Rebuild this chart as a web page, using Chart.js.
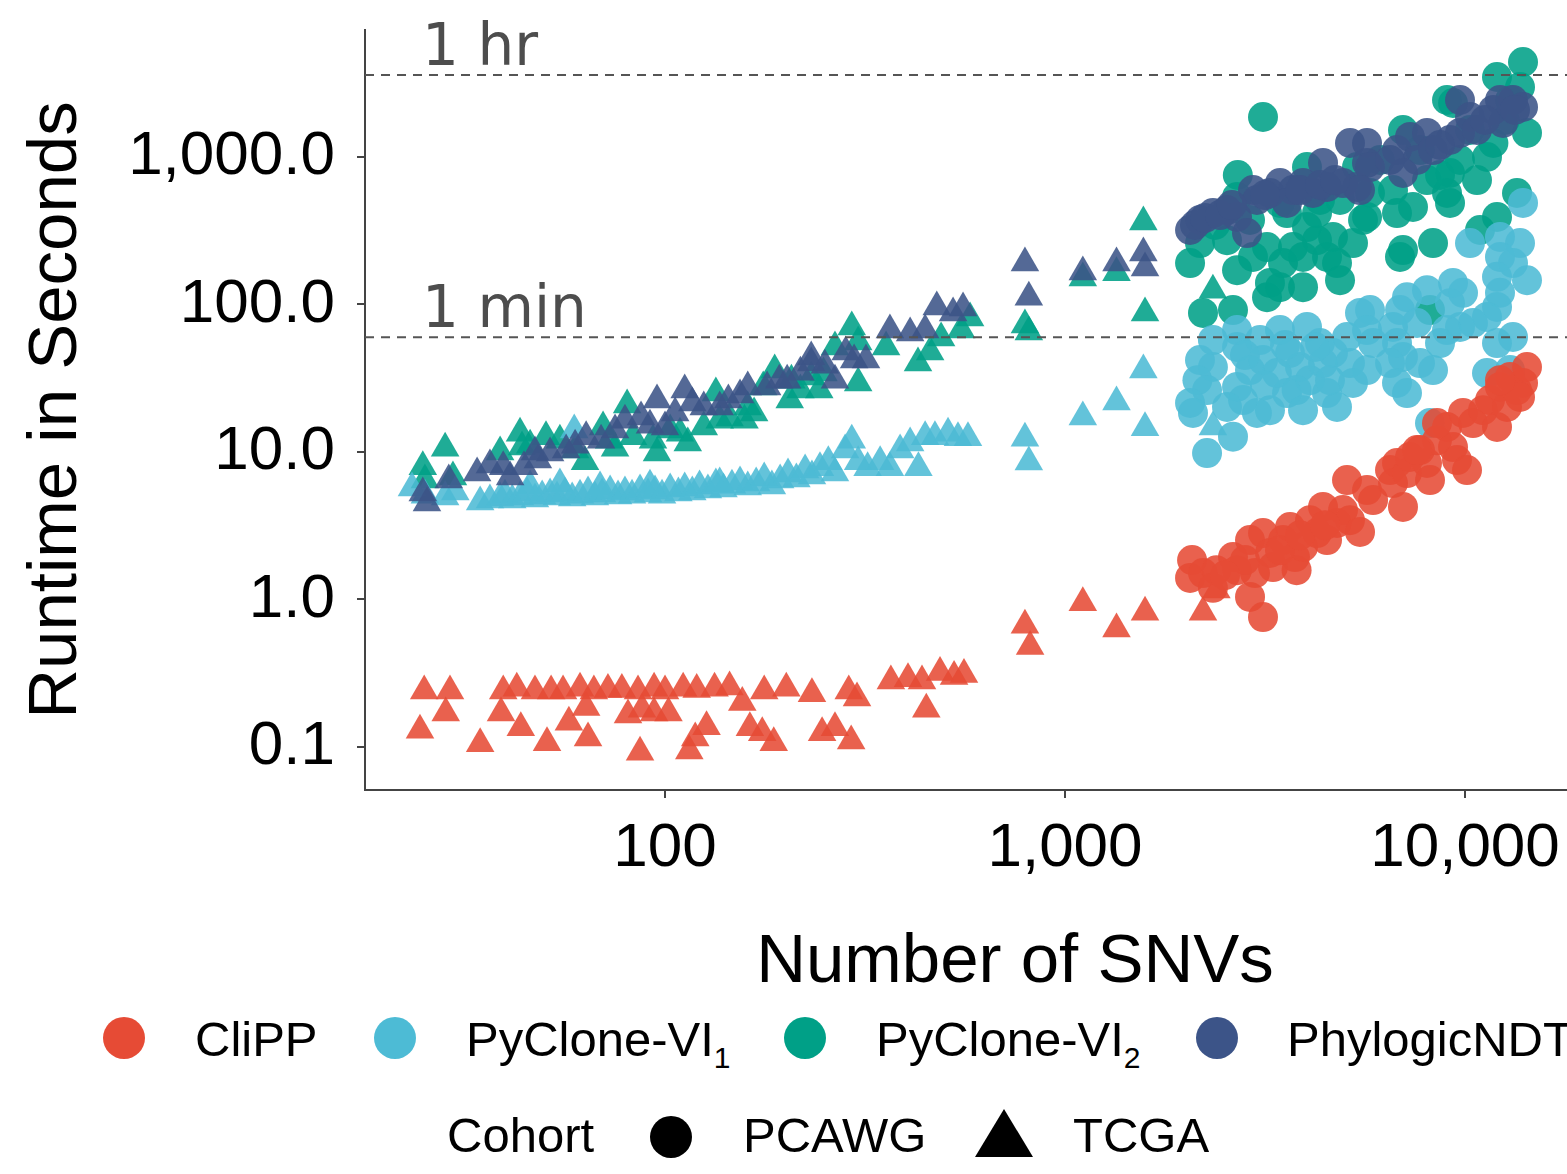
<!DOCTYPE html>
<html>
<head>
<meta charset="utf-8">
<script src="https://cdn.jsdelivr.net/npm/chart.js@4.4.0/dist/chart.umd.min.js"></script>
<style>
html,body{margin:0;padding:0;background:#fff;overflow:hidden;width:1567px;height:1174px;position:relative;}
#wrap{position:absolute;left:0;top:0;width:1665px;height:1004px;}
#c{width:1665px;height:1004px;display:block;}
.lg{position:absolute;font-family:"Liberation Sans",Arial,sans-serif;font-size:49px;color:#000;white-space:nowrap;line-height:1;}
.lg sub{font-size:30px;vertical-align:-12px;line-height:0;}
.dot{position:absolute;width:42px;height:42px;border-radius:50%;}
.tri{position:absolute;width:0;height:0;border-left:29px solid transparent;border-right:29px solid transparent;border-bottom:48px solid #000;}
</style>
</head>
<body>
<div id="wrap"><canvas id="c" width="1665" height="1004"></canvas></div>

<div class="dot" style="left:103px;top:1017px;background:#E64B35"></div>
<div class="lg" style="left:195px;top:1015px">CliPP</div>
<div class="dot" style="left:374px;top:1017px;background:#4DBBD5"></div>
<div class="lg" style="left:466px;top:1015px">PyClone-VI<sub>1</sub></div>
<div class="dot" style="left:784px;top:1017px;background:#00A087"></div>
<div class="lg" style="left:876px;top:1015px">PyClone-VI<sub>2</sub></div>
<div class="dot" style="left:1196px;top:1017px;background:#3C5488"></div>
<div class="lg" style="left:1287px;top:1015px">PhylogicNDT</div>

<div class="lg" style="left:447px;top:1111px">Cohort</div>
<div class="dot" style="left:650px;top:1116px;background:#000"></div>
<div class="lg" style="left:743px;top:1111px">PCAWG</div>
<div class="tri" style="left:975px;top:1109px"></div>
<div class="lg" style="left:1073px;top:1111px">TCGA</div>

<script>
// ---- categories / labels ----
const methods = ["CliPP", "PyClone-VI1", "PyClone-VI2", "PhylogicNDT"];
const methodColors = ["rgba(230,75,53,0.88)", "rgba(77,187,213,0.88)", "rgba(0,160,135,0.88)", "rgba(60,84,136,0.88)"];
const cohorts = ["PCAWG", "TCGA"];
const xTickValues = [100, 1000, 10000];
const xTickLabels = ["100", "1,000", "10,000"];
const yTickValues = [0.1, 1, 10, 100, 1000];
const yTickLabels = ["0.1", "1.0", "10.0", "100.0", "1,000.0"];
const xRange = [17.78, 31623];
const yRange = [0.0511, 7261];
const thresholdValues = [3600, 60];
const thresholdLabels = ["1 hr", "1 min"];
const thresholdLabelX = 24.7;

// ---- series: [number of SNVs, runtime seconds] ----
const clippPCAWG = [[2078,1.85],[2054,1.40],[2213,1.51],[2390,1.58],[2343,1.20],[2630,1.94],[2692,1.58],[2901,2.53],[2985,1.51],[2901,1.04],[3126,0.76],[3126,2.82],[3254,2.07],[3311,1.66],[3508,2.53],[3652,3.10],[3758,1.94],[3793,1.58],[3936,2.27],[4097,3.45],[4266,2.82],[4416,4.24],[4519,2.53],[4786,3.30],[4955,4.04],[5158,3.45],[5464,2.87],[5070,6.45],[5689,5.52],[5891,4.72],[6494,7.54],[6607,6.16],[6761,8.42],[6998,4.24],[7161,7.20],[7286,9.25],[7718,10.3],[8035,8.42],[8175,6.45],[8511,12.0],[9016,14.8],[9333,10.8],[9550,8.81],[9886,18.4],[10116,7.54],[10471,15.7],[11092,19.2],[11548,22.5],[12023,14.8],[12232,27.6],[12735,20.2],[12957,32.3],[13490,26.3],[13964,29.4],[14289,37.7],[13725,23.6],[12232,30.7],[8511,15.7],[7586,10.3],[3447,2.16],[3868,2.73],[4467,3.19],[2818,1.85],[2512,1.46]];

const clippTCGA = [[25.0,0.24],[29.0,0.24],[28.3,0.17],[24.4,0.13],[34.5,0.105],[39.4,0.24],[42.6,0.25],[38.9,0.17],[43.6,0.135],[50.7,0.107],[47.3,0.24],[51.9,0.24],[55.6,0.24],[61.3,0.25],[66.4,0.24],[72.0,0.245],[78.0,0.245],[57.5,0.147],[64.2,0.115],[63.5,0.185],[85.6,0.24],[93.9,0.25],[100,0.24],[111,0.25],[120,0.245],[133,0.25],[145,0.255],[80.8,0.165],[87.6,0.18],[93.9,0.17],[102,0.17],[86.6,0.092],[115,0.094],[119,0.115],[127,0.137],[156,0.2],[163,0.135],[175,0.125],[187,0.107],[177,0.24],[201,0.25],[233,0.23],[247,0.125],[266,0.135],[292,0.11],[288,0.24],[302,0.215],[367,0.28],[405,0.29],[439,0.28],[450,0.18],[487,0.32],[528,0.3],[559,0.31],[794,0.67],[818,0.48],[1108,0.95],[1345,0.63],[1585,0.82],[2390,1.16],[2213,0.82]];

const pyclone1PCAWG = [[2692,67.1],[2692,51.5],[3072,57.4],[3447,67.1],[4027,70.4],[4340,54.8],[5070,60.2],[5464,87.6],[2175,42.0],[2343,37.7],[2143,30.7],[2265,26.3],[2054,21.5],[2089,18.4],[2630,12.7],[2265,9.84],[2692,27.6],[2901,35.9],[3126,42.0],[3387,34.3],[3652,46.9],[3868,37.7],[4097,30.7],[4416,40.1],[4677,46.9],[3793,26.3],[3019,18.4],[2786,22.5],[3254,19.2],[3589,25.1],[3936,19.2],[4519,25.1],[4786,20.2],[5248,29.4],[5158,40.1],[2541,20.2],[10292,261],[12232,287],[13964,488],[13725,261],[12232,210],[13183,191],[14289,146],[12023,154],[12232,120],[12023,96.2],[11350,82.3],[10471,74.9],[9716,70.4],[9016,67.1],[8660,54.8],[9333,140],[9886,120],[9173,102],[8035,125],[7161,112],[6879,91.7],[6607,70.4],[7586,74.9],[5788,91.7],[5689,67.1],[5891,54.8],[6761,54.8],[6998,44.1],[6494,40.1],[5689,35.9],[6761,29.4],[7161,25.1],[8318,35.9],[7718,40.1],[12023,54.8],[13183,60.2],[11350,34.3],[12957,35.9],[8175,15.7],[3548,53.1],[4217,51.5],[4597,30.7],[3162,28.4],[2818,45.4],[2343,57.4]];

const pyclone1TCGA = [[23.3,5.70],[25.1,5.10],[28.2,4.95],[29.9,5.35],[34.5,4.58],[36.5,4.72],[38.7,4.87],[39.8,5.10],[41.5,4.72],[43.4,4.95],[45.2,5.27],[47.3,4.80],[49.3,5.03],[51.6,5.19],[53.7,4.95],[56.2,5.27],[58.6,4.87],[61.3,5.10],[64.2,5.35],[66.8,4.95],[69.6,5.19],[72.9,5.44],[76.3,5.03],[79.4,5.35],[82.7,5.10],[86.6,5.52],[90.7,5.19],[94.4,5.44],[98.3,5.10],[103,5.61],[108,5.27],[112,5.70],[117,5.35],[122,5.87],[128,5.52],[134,6.06],[140,5.61],[147,5.96],[154,6.26],[161,5.78],[169,6.16],[177,6.66],[185,5.87],[194,6.45],[203,7.09],[213,6.56],[224,7.54],[233,6.87],[244,7.82],[256,8.60],[266,7.20],[282,10.3],[293,12.0],[304,8.60],[321,7.82],[345,8.60],[365,7.82],[387,10.3],[410,11.5],[430,7.82],[447,12.7],[473,12.7],[510,13.4],[540,12.5],[572,12.5],[59.3,14.1],[46.0,5.87],[54.6,6.06],[68.8,5.78],[91.7,5.96],[137,6.16],[794,12.4],[812,8.55],[1108,17.3],[1345,21.8],[1570,36.0],[1585,14.6],[2343,14.8]];

const pyclone2PCAWG = [[3126,1867],[2704,755],[4027,855],[5370,855],[2692,536],[3447,488],[2175,261],[2054,191],[2541,273],[2692,171],[2951,210],[3199,245],[3254,140],[3199,112],[3447,131],[3508,191],[3715,245],[4027,335],[3936,210],[3936,131],[4266,273],[4519,210],[4677,287],[4786,191],[4870,146],[5248,261],[3589,417],[5560,374],[2213,87.6],[2630,91.7],[4266,417],[12023,3486],[13964,4405],[13725,2983],[9016,2435],[14289,1455],[11776,1244],[11350,1000],[6998,1524],[9716,954],[10715,698],[9173,779],[8035,698],[9016,570],[9173,488],[7413,458],[6607,597],[6761,417],[5788,570],[5689,392],[8318,261],[6998,234],[6879,210],[10902,320],[12023,392],[13490,570],[8175,91.7],[9333,2323],[2371,346],[2901,374],[4340,511],[4870,511],[6131,954],[7718,1115],[10292,1524],[12589,1782],[8660,755],[12957,2435]];

const pyclone2TCGA = [[24.8,7.95],[28.2,10.6],[25.1,6.45],[29.5,6.78],[43.4,13.4],[43.9,10.8],[50.4,12.7],[54.6,12.0],[63.1,8.60],[70.0,14.8],[72.5,12.0],[80.4,20.8],[83.2,12.7],[95.5,9.84],[93.3,12.0],[109,13.4],[114,11.5],[125,14.8],[134,25.1],[137,16.4],[158,16.4],[161,20.2],[167,18.4],[188,35.9],[176,27.6],[207,30.7],[232,32.3],[243,26.3],[266,51.5],[293,70.4],[304,55.7],[304,29.4],[357,51.5],[429,40.1],[490,59.3],[550,67.1],[249,34.3],[38.7,9.99],[46.0,11.1],[59.6,10.3],[75.0,10.6],[103,14.1],[145,17.0],[205,22.5],[218,26.3],[579,81.0],[460,47.6],[1570,362],[1108,151],[1345,164],[1585,87.5],[794,72.6],[812,65.2],[2343,125]];

const phylogicPCAWG = [[2054,320],[2175,374],[2343,417],[2541,437],[2692,392],[2951,597],[3019,511],[3254,570],[3447,666],[3715,597],[3936,666],[4168,570],[4416,911],[4519,626],[4955,666],[5158,1244],[5370,626],[5689,1244],[5689,911],[2851,305],[3589,488],[5788,855],[6761,1115],[7286,1367],[8035,1455],[7586,954],[6998,779],[8318,1115],[9173,1304],[9716,2435],[9716,1455],[10292,1867],[10715,1524],[11776,2084],[12445,1700],[13183,2435],[13964,2183],[12232,2435],[5464,597],[2113,346],[2239,386],[2441,404],[2612,472],[3162,552],[3868,597],[4340,646],[4732,698],[6494,954],[8660,1206],[11220,1782],[13335,2084]];

const phylogicTCGA = [[24.8,5.27],[25.4,4.51],[28.8,6.45],[33.9,7.20],[39.4,7.95],[41.0,6.78],[44.4,7.95],[48.1,8.81],[51.6,9.84],[56.6,10.3],[63.5,12.7],[69.2,12.0],[79.4,16.4],[87.1,17.3],[95.5,22.5],[100,14.8],[112,26.3],[117,21.5],[125,20.2],[137,20.2],[144,22.5],[161,27.6],[180,27.6],[193,30.7],[202,30.7],[232,44.1],[232,40.1],[266,30.7],[283,47.6],[297,42.0],[318,42.0],[365,67.1],[410,64.1],[447,67.1],[478,96.2],[525,87.6],[556,94.7],[36.5,8.15],[47.3,9.99],[59.6,11.1],[75.0,14.1],[91.7,15.2],[106,18.4],[154,24.3],[218,34.7],[251,38.8],[794,191],[812,112],[1108,166],[1345,191],[1570,223],[1585,177]];

// ---- build chart ----
const seriesTable = [
  {method: 0, cohort: 0, pts: clippPCAWG, order: 2},
  {method: 0, cohort: 1, pts: clippTCGA, order: 2},
  {method: 1, cohort: 0, pts: pyclone1PCAWG, order: 3},
  {method: 1, cohort: 1, pts: pyclone1TCGA, order: 3},
  {method: 2, cohort: 0, pts: pyclone2PCAWG, order: 4},
  {method: 2, cohort: 1, pts: pyclone2TCGA, order: 4},
  {method: 3, cohort: 0, pts: phylogicPCAWG, order: 1},
  {method: 3, cohort: 1, pts: phylogicTCGA, order: 1}
];

const datasets = seriesTable.map(s => {
  const tri = cohorts[s.cohort] === "TCGA";
  return {
    type: 'scatter',
    label: methods[s.method] + ' ' + cohorts[s.cohort],
    data: s.pts.map(p => ({x: p[0], y: p[1]})),
    pointStyle: tri ? 'triangle' : 'circle',
    pointRadius: tri ? 16.5 : 15,
    pointHoverRadius: tri ? 16.5 : 15,
    pointBackgroundColor: methodColors[s.method],
    backgroundColor: methodColors[s.method],
    pointBorderWidth: 0,
    borderWidth: 0,
    order: s.order
  };
});

thresholdValues.forEach((v, i) => {
  datasets.push({
    type: 'line',
    label: thresholdLabels[i],
    data: [{x: xRange[0], y: v}, {x: xRange[1], y: v}],
    borderColor: '#555',
    borderWidth: 2,
    borderDash: [9, 7],
    pointRadius: 0,
    fill: false,
    order: 0
  });
});

const thresholdText = {
  id: 'thresholdText',
  afterDatasetsDraw(chart) {
    const {ctx, scales: {x, y}} = chart;
    ctx.save();
    ctx.font = '58px "DejaVu Sans"';
    ctx.fillStyle = '#4d4d4d';
    ctx.textAlign = 'left';
    ctx.textBaseline = 'alphabetic';
    thresholdValues.forEach((v, i) => {
      ctx.fillText(thresholdLabels[i], x.getPixelForValue(thresholdLabelX), y.getPixelForValue(v) - 10);
    });
    ctx.restore();
  }
};

const tickFont = {family: 'Liberation Sans', size: 62};
const titleFont = {family: 'Liberation Sans', size: 69};

new Chart(document.getElementById('c'), {
  type: 'scatter',
  data: {datasets},
  plugins: [thresholdText],
  options: {
    responsive: false,
    animation: false,
    devicePixelRatio: 1,
    layout: {padding: {top: 30, left: 0, right: 0, bottom: 0}, autoPadding: false},
    plugins: {legend: {display: false}, tooltip: {enabled: false}},
    scales: {
      x: {
        type: 'logarithmic', position: 'bottom', min: xRange[0], max: xRange[1],
        afterFit: s => { s.height = 214; s.paddingLeft = 0; s.paddingRight = 0; },
        afterBuildTicks: s => { s.ticks = xTickValues.map(v => ({value: v})); },
        ticks: {
          callback: v => { const i = xTickValues.indexOf(v); return i >= 0 ? xTickLabels[i] : ''; },
          font: tickFont, color: '#000', padding: 14, maxRotation: 0, autoSkip: false
        },
        grid: {display: true, drawOnChartArea: false, drawTicks: true, tickLength: 8, color: '#444', lineWidth: 2},
        border: {display: true, color: '#444', width: 2},
        title: {display: true, text: 'Number of SNVs', font: titleFont, color: '#000', padding: {top: 0, bottom: 0}}
      },
      y: {
        type: 'logarithmic', position: 'left', min: yRange[0], max: yRange[1],
        afterFit: s => { s.width = 365; s.paddingTop = 0; s.paddingBottom = 0; },
        afterBuildTicks: s => { s.ticks = yTickValues.map(v => ({value: v})); },
        ticks: {
          callback: v => { const i = yTickValues.indexOf(v); return i >= 0 ? yTickLabels[i] : ''; },
          font: tickFont, color: '#000', padding: 22, autoSkip: false
        },
        grid: {display: true, drawOnChartArea: false, drawTicks: true, tickLength: 8, color: '#444', lineWidth: 2},
        border: {display: true, color: '#444', width: 2},
        title: {display: true, text: 'Runtime in Seconds', font: titleFont, color: '#000', padding: {top: 16, bottom: 0}}
      }
    }
  }
});
</script>
</body>
</html>
